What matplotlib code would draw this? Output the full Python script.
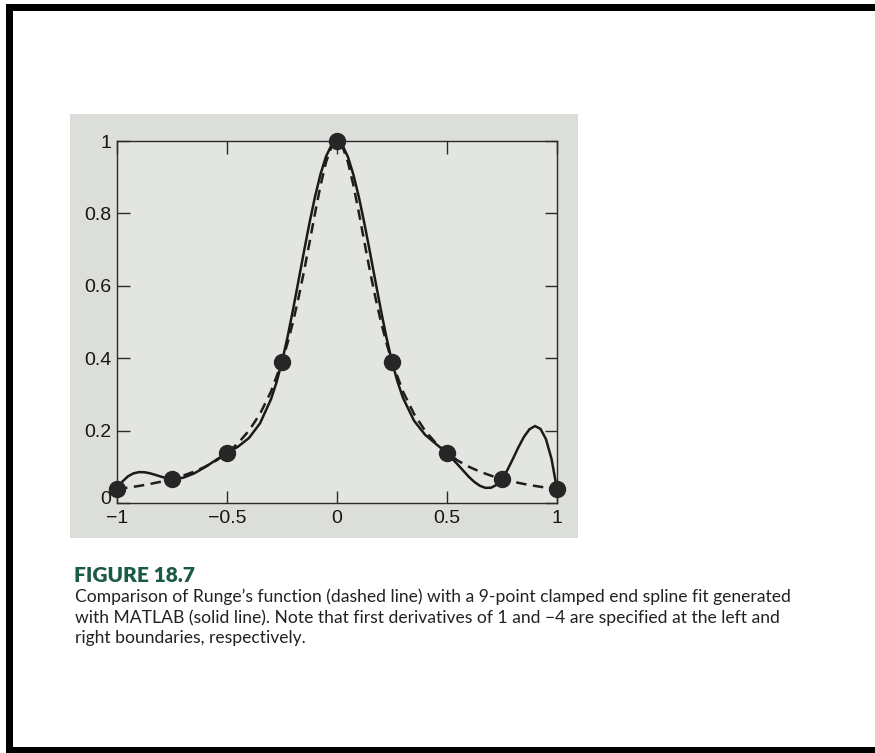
import matplotlib
matplotlib.use("Agg")
import matplotlib.pyplot as plt
from matplotlib.patches import Rectangle
import matplotlib.transforms as mtransforms

# ---- data ----
node_x = [-1, -0.75, -0.5, -0.25, 0, 0.25, 0.5, 0.75, 1]
node_y = [0.0385, 0.0664, 0.1379, 0.3902, 1.0, 0.3902, 0.1379, 0.0664, 0.0385]

# Runge's function (dashed line)
runge_x = [-1, -0.95, -0.9, -0.85, -0.8, -0.75, -0.7, -0.65, -0.6, -0.55, -0.5,
           -0.45, -0.4, -0.35, -0.3, -0.25, -0.225, -0.2, -0.175, -0.15, -0.125,
           -0.1, -0.075, -0.05, -0.025, 0,
           0.025, 0.05, 0.075, 0.1, 0.125, 0.15, 0.175, 0.2, 0.225, 0.25,
           0.3, 0.35, 0.4, 0.45, 0.5, 0.55, 0.6, 0.65, 0.7, 0.75, 0.8, 0.85,
           0.9, 0.95, 1]
runge_y = [0.0385, 0.0425, 0.0471, 0.0525, 0.0588, 0.0664, 0.0755, 0.0865, 0.1000, 0.1168, 0.1379,
           0.1649, 0.2000, 0.2462, 0.3077, 0.3902, 0.4414, 0.5000, 0.5664, 0.6400, 0.7191,
           0.8000, 0.8767, 0.9412, 0.9846, 1.0,
           0.9846, 0.9412, 0.8767, 0.8000, 0.7191, 0.6400, 0.5664, 0.5000, 0.4414, 0.3902,
           0.3077, 0.2462, 0.2000, 0.1649, 0.1379, 0.1168, 0.1000, 0.0865, 0.0755, 0.0664, 0.0588, 0.0525,
           0.0471, 0.0425, 0.0385]

# clamped end spline (solid line)
spline_x = [-1, -0.975, -0.95, -0.925, -0.9, -0.875, -0.85, -0.825, -0.8, -0.775, -0.75,
            -0.7, -0.65, -0.6, -0.55, -0.5,
            -0.45, -0.4, -0.35, -0.3, -0.275, -0.25,
            -0.225, -0.2, -0.175, -0.15, -0.125, -0.1, -0.075, -0.05, -0.025, 0,
            0.025, 0.05, 0.075, 0.1, 0.125, 0.15, 0.175, 0.2, 0.225, 0.25,
            0.275, 0.3, 0.35, 0.4, 0.45, 0.5,
            0.55, 0.6, 0.625, 0.65, 0.675, 0.7, 0.725, 0.75,
            0.775, 0.8, 0.825, 0.85, 0.875, 0.9, 0.925, 0.95, 0.975, 1]
spline_y = [0.0385, 0.0596, 0.0737, 0.0819, 0.0853, 0.0850, 0.0820, 0.0776, 0.0728, 0.0687, 0.0664,
            0.0697, 0.0816, 0.0989, 0.1188, 0.1379,
            0.1556, 0.1796, 0.2200, 0.2868, 0.3333, 0.3902,
            0.4580, 0.5338, 0.6141, 0.6953, 0.7738, 0.8459, 0.9083, 0.9571, 0.9889, 1.0,
            0.9881, 0.9556, 0.9061, 0.8434, 0.7709, 0.6923, 0.6113, 0.5316, 0.4567, 0.3902,
            0.3351, 0.2905, 0.2274, 0.1888, 0.1630, 0.1379,
            0.1054, 0.0718, 0.0579, 0.0474, 0.0418, 0.0422, 0.0500, 0.0664,
            0.0917, 0.1225, 0.1544, 0.1830, 0.2038, 0.2126, 0.2048, 0.1761, 0.1221, 0.0385]

xticks = [-1, -0.5, 0, 0.5, 1]
xticklabels = ["\u22121", "\u22120.5", "0", "0.5", "1"]
yticks = [0, 0.2, 0.4, 0.6, 0.8, 1]
yticklabels = ["0", "0.2", "0.4", "0.6", "0.8", "1"]

title_text = "FIGURE 18.7"
caption_lines = [
    "Comparison of Runge\u2019s function (dashed line) with a 9-point clamped end spline fit generated",
    "with MATLAB (solid line). Note that first derivatives of 1 and \u22124 are specified at the left and",
    "right boundaries, respectively.",
]

# ---- figure ----
W, H = 875, 753
fig = plt.figure(figsize=(W / 100, H / 100), dpi=100)
fig.patch.set_facecolor("white")

def px_rect(x0, y0, x1, y1, color, z=-5):
    fig.patches.append(Rectangle((x0 / W, 1 - y1 / H), (x1 - x0) / W, (y1 - y0) / H,
                                 transform=fig.transFigure, facecolor=color,
                                 edgecolor="none", zorder=z))

# black page frame (left, top, bottom)
px_rect(6, 4, 875, 11, "black")
px_rect(6, 4, 13, 753, "black")
px_rect(6, 747, 875, 753, "black")

# gray scanned panel
px_rect(70, 114, 578, 538, "#dcdeda")

ax_l, ax_r, ax_t, ax_b = 117, 557, 141, 503
ax = fig.add_axes([ax_l / W, 1 - ax_b / H, (ax_r - ax_l) / W, (ax_b - ax_t) / H])
ax.set_zorder(5)
ax.set_facecolor("#e3e5e1")

ax.plot(runge_x, runge_y, color="#1e1e1e", lw=1.8, dashes=(4.2, 2.6), zorder=3)
ax.plot(spline_x, spline_y, color="#1a1a1a", lw=1.8, zorder=4, solid_joinstyle="round")
ax.plot(node_x, node_y, "o", color="#262626", markersize=11.5, clip_on=False, zorder=5)

ax.set_xlim(-1, 1)
ax.set_ylim(0, 1)
ax.set_xticks(xticks)
ax.set_xticklabels(xticklabels)
ax.set_yticks(yticks)
ax.set_yticklabels(yticklabels)
ax.tick_params(direction="in", length=9, width=1.0, color="#2a2a2a",
               top=True, right=True, labelsize=14, labelcolor="#151515",
               labelfontfamily="Liberation Sans")
ax.tick_params(axis="x", pad=5)
ax.tick_params(axis="y", pad=4)
for s in ax.spines.values():
    s.set_color("#2a2a2a")
    s.set_linewidth(1.0)

# lift the "0" y label a little so it sits above the "-1" x label, as in the reference
ylabs = ax.get_yticklabels()
ylabs[0].set_transform(ylabs[0].get_transform() +
                       mtransforms.ScaledTranslation(0, 5 / 100, fig.dpi_scale_trans))

# caption
capfont = ["Lato", "DejaVu Sans"]
fig.text(74 / W, 1 - 575 / H, title_text, fontfamily=capfont, fontweight="heavy",
         fontsize=15, color="#1b5a46", va="center", ha="left")
line_y = [597, 617.5, 638]
for txt, yy in zip(caption_lines, line_y):
    fig.text(75 / W, 1 - yy / H, txt, fontfamily=capfont, fontsize=12.6,
             color="#222222", va="center", ha="left")

fig.savefig("out.png", dpi=100, facecolor="white")
